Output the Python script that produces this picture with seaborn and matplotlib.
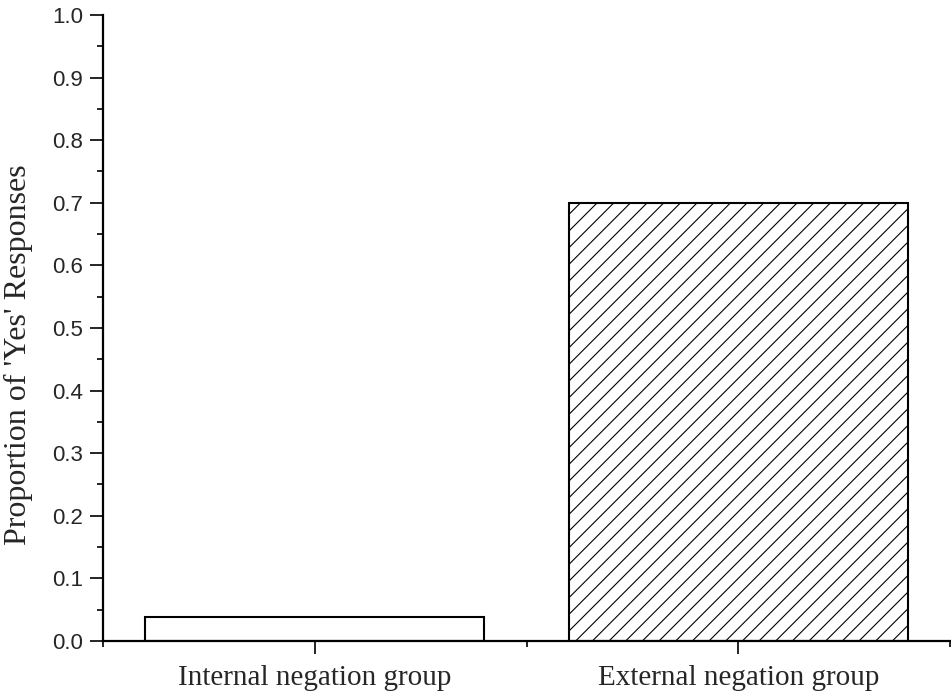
import matplotlib
matplotlib.use("Agg")
import matplotlib.pyplot as plt
import matplotlib.ticker as tkr
import pandas as pd
import seaborn as sns

# data
groups = ["Internal negation group", "External negation group"]
proportions = [0.038, 0.70]
hatches = ["", "//"]

sns.set_style("ticks")
plt.rcParams['hatch.linewidth'] = 0.8

df = pd.DataFrame({"Group": groups, "Proportion": proportions})

fig = plt.figure(figsize=(9.51, 6.94), dpi=100)
ax = fig.add_axes([0.1083, 0.0764, 0.8907, 0.902])

sns.barplot(x="Group", y="Proportion", data=df, color="white", edgecolor="black",
            linewidth=1.5, width=0.8, ax=ax)
for patch, h in zip(ax.patches, hatches):
    patch.set_hatch(h)
    patch.set_facecolor("white")
    patch.set_edgecolor("black")

ax.set_xlim(-0.5, 1.5)
ax.set_ylim(0, 1.0)
ax.yaxis.set_major_locator(tkr.MultipleLocator(0.1))
ax.yaxis.set_minor_locator(tkr.MultipleLocator(0.05))
ax.yaxis.set_major_formatter(tkr.FormatStrFormatter("%.1f"))
ax.xaxis.set_minor_locator(tkr.FixedLocator([-0.5, 0.5, 1.5]))

for side in ["top", "right"]:
    ax.spines[side].set_visible(False)
for side in ["left", "bottom"]:
    ax.spines[side].set_linewidth(1.6)
    ax.spines[side].set_color("black")

ax.tick_params(which="major", direction="out", length=9.5, width=1.2, color="black")
ax.tick_params(which="minor", direction="out", length=4.5, width=1.2, color="black")
ax.tick_params(axis="y", which="major", pad=5)
ax.tick_params(axis="x", which="major", pad=8)
for lab in ax.get_yticklabels():
    lab.set_family("Liberation Sans")
    lab.set_fontsize(16)
for lab in ax.get_xticklabels():
    lab.set_family("Liberation Serif")
    lab.set_fontsize(21)

ax.set_xlabel("")
ax.set_ylabel("Proportion of 'Yes' Responses", family="Liberation Serif", fontsize=23)
ax.yaxis.set_label_coords(-0.083, 0.458)

fig.savefig("out.png", dpi=100)
